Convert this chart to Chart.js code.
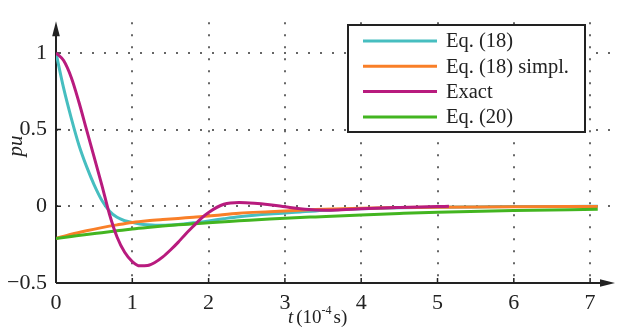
<!DOCTYPE html>
<html>
<head>
<meta charset="utf-8">
<script src="https://cdn.jsdelivr.net/npm/chart.js@4.4.0/dist/chart.umd.min.js"></script>
<style>
  html, body { margin: 0; padding: 0; background: #fff; }
  #wrap { width: 617px; height: 328px; position: relative; }
</style>
</head>
<body>
<div id="wrap"><canvas id="chart"></canvas></div>
<script>
// time in units of 1e-4 s, response in pu
const xTicks = [0, 1, 2, 3, 4, 5, 6, 7];
const yTicks = [-0.5, 0, 0.5, 1];

const tEq18 = [0, 0.1, 0.2, 0.3, 0.4, 0.5, 0.6, 0.7, 0.8, 0.9, 1.0, 1.1, 1.2, 1.3, 1.4, 1.5, 1.6, 1.8, 2.0,
               2.2, 2.4, 2.6, 2.8, 3.0, 3.2, 3.4, 3.6, 3.8, 4.0, 4.5, 5.0, 5.5, 6.0, 6.5, 7.1];
const eq18 = [1.00, 0.77, 0.575, 0.40, 0.26, 0.14, 0.04, -0.03, -0.072, -0.094, -0.105, -0.115, -0.121, -0.124,
              -0.124, -0.122, -0.119, -0.108, -0.095, -0.081, -0.068, -0.058, -0.050, -0.044, -0.037, -0.030,
              -0.025, -0.020, -0.016, -0.010, -0.006, -0.004, -0.002, -0.001, 0.0];

const tExact = [0, 0.1, 0.2, 0.3, 0.4, 0.5, 0.6, 0.7, 0.8, 0.9, 1.0, 1.1, 1.2, 1.3, 1.4, 1.5, 1.6, 1.7, 1.8, 1.9,
                2.0, 2.2, 2.4, 2.6, 2.8, 3.0, 3.2, 3.4, 3.6, 3.8, 4.0, 4.5, 5.0, 5.15];
const exact = [1.00, 0.95, 0.84, 0.68, 0.50, 0.32, 0.14, -0.05, -0.20, -0.30, -0.36, -0.388, -0.386, -0.365, -0.33,
               -0.285, -0.235, -0.18, -0.13, -0.08, -0.04, 0.013, 0.025, 0.02, 0.01, -0.003, -0.016, -0.024,
               -0.025, -0.021, -0.016, -0.008, -0.002, 0.0];

const tSlow = [0, 0.2, 0.4, 0.6, 0.8, 1.0, 1.2, 1.4, 1.6, 1.8, 2.0, 2.4, 2.8, 3.0, 3.4, 4.0, 4.5, 5.0, 6.0, 7.1];
const eq18simpl = [-0.21, -0.182, -0.159, -0.139, -0.121, -0.105, -0.094, -0.086, -0.079, -0.071, -0.064, -0.045,
                   -0.035, -0.030, -0.021, -0.012, -0.008, -0.006, -0.003, -0.001];
const eq20 = [-0.21, -0.197, -0.184, -0.172, -0.160, -0.148, -0.138, -0.129, -0.121, -0.114, -0.107, -0.095,
              -0.083, -0.078, -0.069, -0.056, -0.047, -0.039, -0.028, -0.019];

const toPoints = (ts, vs) => ts.map((t, i) => ({ x: t, y: vs[i] }));

const SERIF = '"Liberation Serif", "DejaVu Serif", serif';
const INK = '#222';

const seriesLine = (label, data, color, order) => ({
    label, data, order,
    borderColor: color,
    borderWidth: 3,
    pointRadius: 0,
    fill: false,
    cubicInterpolationMode: 'monotone',
});

// axes with arrowheads and small inner tick marks
const axesPlugin = {
    id: 'axes',
    beforeDatasetsDraw(chart) {
        const { ctx, chartArea, scales: { x, y } } = chart;
        const x0 = x.getPixelForValue(0);
        const y0 = y.getPixelForValue(-0.5);
        ctx.save();
        ctx.strokeStyle = INK;
        ctx.fillStyle = INK;
        ctx.lineWidth = 2;
        ctx.beginPath();
        ctx.moveTo(x0, y0);
        ctx.lineTo(x0, chartArea.top + 4);
        ctx.moveTo(x0, y0);
        ctx.lineTo(chartArea.right - 2, y0);
        ctx.stroke();

        ctx.lineWidth = 1.5;
        ctx.beginPath();
        xTicks.slice(1).forEach(v => {
            const px = x.getPixelForValue(v);
            ctx.moveTo(px, y0);
            ctx.lineTo(px, y0 - 5);
        });
        yTicks.slice(1).forEach(v => {
            const py = y.getPixelForValue(v);
            ctx.moveTo(x0, py);
            ctx.lineTo(x0 + 5, py);
        });
        ctx.stroke();

        // arrowheads
        const top = chartArea.top - 1;
        ctx.beginPath();
        ctx.moveTo(x0, top);
        ctx.lineTo(x0 - 3.8, top + 15);
        ctx.lineTo(x0 + 3.8, top + 15);
        ctx.closePath();
        ctx.fill();
        const right = chartArea.right + 2;
        ctx.beginPath();
        ctx.moveTo(right, y0);
        ctx.lineTo(right - 15, y0 - 3.8);
        ctx.lineTo(right - 15, y0 + 3.8);
        ctx.closePath();
        ctx.fill();
        ctx.restore();
    },
    afterDraw(chart) {
        const { ctx } = chart;
        ctx.save();
        ctx.fillStyle = INK;

        // y title
        ctx.translate(16, 146);
        ctx.rotate(-Math.PI / 2);
        ctx.font = 'italic 21px ' + SERIF;
        ctx.textAlign = 'center';
        ctx.textBaseline = 'middle';
        ctx.fillText('pu', 0, 0);
        ctx.setTransform(1, 0, 0, 1, 0, 0);

        // x title: t (10^-4 s)
        let tx = 288;
        const base = 323;
        ctx.textAlign = 'left';
        ctx.textBaseline = 'alphabetic';
        ctx.font = 'italic 19px ' + SERIF;
        ctx.fillText('t', tx, base);
        tx += ctx.measureText('t').width + 3;
        ctx.font = '19px ' + SERIF;
        ctx.fillText('(10', tx, base);
        tx += ctx.measureText('(10').width;
        ctx.font = '12px ' + SERIF;
        ctx.fillText('-4', tx, base - 9);
        tx += ctx.measureText('-4').width + 2;
        ctx.font = '19px ' + SERIF;
        ctx.fillText('s)', tx, base);
        ctx.restore();
    }
};

// boxed legend in the upper right
const legendBox = {
    id: 'legendBox',
    afterDraw(chart) {
        const { ctx } = chart;
        const bx = 348, by = 25, bw = 237, bh = 107;
        ctx.save();
        ctx.fillStyle = '#fff';
        ctx.fillRect(bx, by, bw, bh);
        ctx.strokeStyle = INK;
        ctx.lineWidth = 2;
        ctx.strokeRect(bx, by, bw, bh);

        ctx.font = '20.5px ' + SERIF;
        ctx.textBaseline = 'middle';
        ctx.textAlign = 'left';
        chart.data.datasets.forEach((ds, i) => {
            const ry = by + 16 + i * 25.3;
            ctx.strokeStyle = ds.borderColor;
            ctx.lineWidth = 3;
            ctx.beginPath();
            ctx.moveTo(bx + 15, ry);
            ctx.lineTo(bx + 89, ry);
            ctx.stroke();
            ctx.fillStyle = INK;
            ctx.fillText(ds.label, bx + 98, ry + 1);
        });
        ctx.restore();
    }
};

const dotted = { display: false, dash: [2, 10] };

new Chart(document.getElementById('chart'), {
    type: 'line',
    data: {
        datasets: [
            seriesLine('Eq. (18)', toPoints(tEq18, eq18), '#46bec0', 3),
            seriesLine('Eq. (18) simpl.', toPoints(tSlow, eq18simpl), '#f97f28', 2),
            seriesLine('Exact', toPoints(tExact, exact), '#b81b7e', 0),
            seriesLine('Eq. (20)', toPoints(tSlow, eq20), '#43b520', 1),
        ]
    },
    options: {
        responsive: true,
        maintainAspectRatio: false,
        animation: false,
        layout: { padding: { top: 11, right: 4, left: 0, bottom: 0 } },
        plugins: { legend: { display: false }, tooltip: { enabled: false } },
        scales: {
            x: {
                type: 'linear',
                min: 0,
                max: 7.3,
                afterBuildTicks: s => { s.ticks = xTicks.map(v => ({ value: v })); },
                afterFit: s => { s.height = 45; },
                border: dotted,
                grid: {
                    drawTicks: false,
                    lineWidth: 2,
                    color: c => (c.tick && c.tick.value > 0) ? '#666' : 'rgba(0,0,0,0)',
                },
                ticks: {
                    padding: 7,
                    color: INK,
                    font: { family: SERIF, size: 22 },
                    maxRotation: 0,
                    callback: v => String(v),
                },
            },
            y: {
                min: -0.5,
                max: 1.2,
                afterBuildTicks: s => { s.ticks = yTicks.map(v => ({ value: v })); },
                afterFit: s => { s.width = 56; },
                border: dotted,
                grid: {
                    drawTicks: false,
                    lineWidth: 2,
                    color: c => (c.tick && c.tick.value > -0.5) ? '#666' : 'rgba(0,0,0,0)',
                },
                ticks: {
                    padding: 9,
                    color: INK,
                    font: { family: SERIF, size: 22 },
                    callback: v => String(v).replace('-', '\u2212'),
                },
            },
        },
    },
    plugins: [axesPlugin, legendBox],
});
</script>
</body>
</html>
